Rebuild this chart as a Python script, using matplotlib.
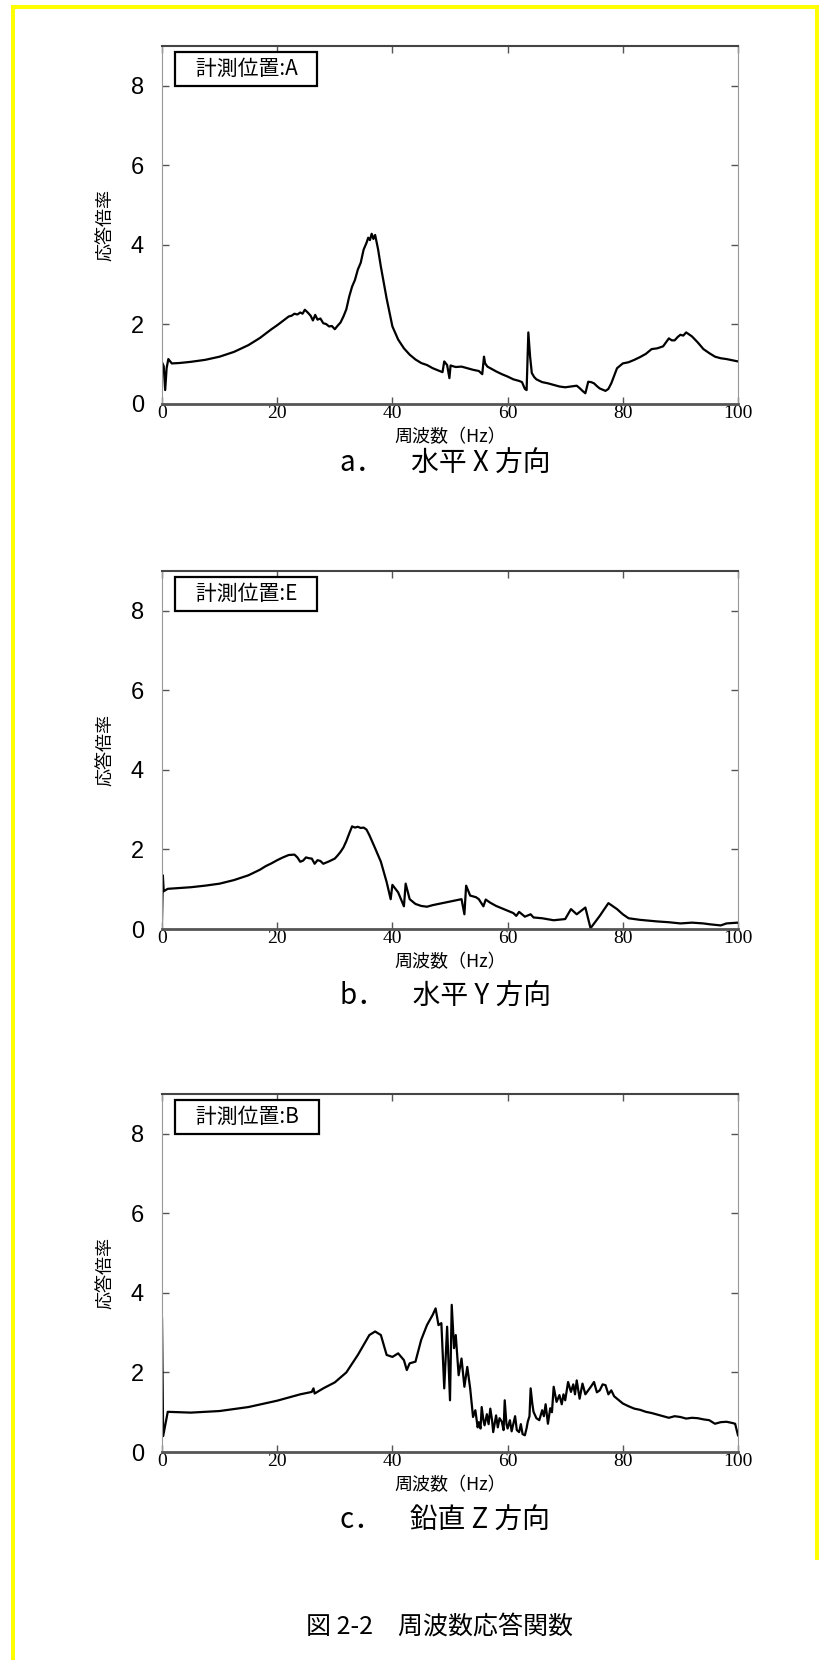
import matplotlib
matplotlib.use('Agg')
import matplotlib.pyplot as plt
from matplotlib.patches import Rectangle

plt.rcParams['font.family'] = ['Noto Sans CJK JP', 'DejaVu Sans']

# ---- data (Hz, response ratio) ----
freq_a = [0, 0.3, 0.55, 0.8, 1.1, 1.7, 3, 5, 7.5, 10,
          12.5, 15, 17, 18, 19, 20, 21, 22, 22.5, 23,
          23.5, 24, 24.4, 24.8, 25.3, 25.8, 26.2, 26.6, 27, 27.5,
          28, 28.5, 29, 29.5, 30, 30.5, 31, 31.5, 32, 32.5,
          33, 33.5, 34, 34.5, 35, 35.5, 35.8, 36.1, 36.4, 36.7,
          37, 37.5, 38, 38.5, 39, 39.5, 40, 41, 42, 43,
          44, 45, 46, 47, 48, 48.7, 49, 49.5, 49.9, 50.1,
          50.5, 51, 52, 53, 54, 55, 55.6, 55.9, 56.1, 56.5,
          57, 58, 59, 60, 61, 62, 62.5, 63, 63.3, 63.6,
          63.9, 64.2, 64.6, 65, 66, 67, 68, 69, 70, 71,
          72, 72.5, 73, 73.5, 74, 74.5, 75, 75.5, 76, 77,
          77.5, 78, 79, 80, 81, 82, 83, 84, 85, 86,
          87, 88, 88.5, 89, 89.5, 90, 90.5, 91, 91.5, 92,
          93, 94, 95, 96, 97, 98, 99, 100]
amp_a = [1.05, 0.95, 0.35, 0.9, 1.13, 1.02, 1.03, 1.06, 1.11, 1.19,
         1.31, 1.48, 1.66, 1.77, 1.88, 1.98, 2.09, 2.2, 2.22, 2.27,
         2.25, 2.3, 2.27, 2.37, 2.3, 2.22, 2.1, 2.24, 2.12, 2.15,
         2.03, 2.01, 1.95, 1.96, 1.88, 1.97, 2.05, 2.2, 2.38, 2.7,
         2.95, 3.12, 3.38, 3.55, 3.88, 4.05, 4.18, 4.12, 4.28, 4.15,
         4.25, 3.9, 3.45, 3.05, 2.65, 2.3, 1.95, 1.62, 1.4, 1.24,
         1.12, 1.03, 0.98, 0.9, 0.84, 0.8, 1.07, 0.98, 0.65, 0.97,
         0.95, 0.93, 0.94, 0.9, 0.86, 0.83, 0.75, 1.19, 1.02, 0.94,
         0.9, 0.82, 0.75, 0.69, 0.62, 0.58, 0.55, 0.38, 0.35, 1.8,
         1.2, 0.78, 0.68, 0.62, 0.55, 0.52, 0.48, 0.44, 0.42, 0.44,
         0.46, 0.4, 0.33, 0.27, 0.56, 0.55, 0.52, 0.45, 0.39, 0.33,
         0.38, 0.52, 0.9, 1.02, 1.05, 1.11, 1.18, 1.26, 1.38, 1.4,
         1.45, 1.65, 1.6, 1.6, 1.68, 1.74, 1.72, 1.8, 1.75, 1.7,
         1.55, 1.38, 1.28, 1.19, 1.15, 1.13, 1.1, 1.07]

freq_e = [0, 0.15, 0.3, 1, 3, 5, 7.5, 10, 12.5, 15,
          17, 18, 19, 20, 21, 22, 23, 23.5, 24, 24.5,
          25, 25.5, 26, 26.5, 27, 27.5, 28, 29, 30, 30.5,
          31, 31.5, 32, 32.5, 33, 33.5, 34, 34.5, 35, 35.5,
          36, 37, 38, 39, 39.7, 40, 41, 42, 42.3, 43,
          44, 45, 46, 47, 48, 49, 50, 51, 52, 52.5,
          52.8, 53.5, 54.5, 55, 55.8, 56.2, 57, 58, 59, 60,
          61, 61.5, 62, 63, 64, 64.5, 66, 68, 70, 71,
          72, 73.5, 74.4, 76, 77.5, 79, 80, 81, 83, 86,
          88, 90, 92, 94, 95, 97, 98, 100]
amp_e = [0.2, 1.35, 0.95, 1.01, 1.03, 1.05, 1.09, 1.14, 1.23, 1.35,
         1.49, 1.58, 1.65, 1.73, 1.8, 1.86, 1.87, 1.8, 1.69, 1.72,
         1.8, 1.78, 1.77, 1.64, 1.73, 1.71, 1.64, 1.7, 1.77, 1.85,
         1.94, 2.05, 2.21, 2.4, 2.58, 2.55, 2.57, 2.54, 2.55, 2.5,
         2.36, 2.03, 1.69, 1.18, 0.75, 1.11, 0.92, 0.57, 1.14, 0.75,
         0.63, 0.58, 0.56, 0.6, 0.63, 0.66, 0.69, 0.72, 0.75, 0.37,
         1.09, 0.84, 0.8, 0.75, 0.57, 0.74, 0.66, 0.58, 0.52, 0.46,
         0.4, 0.33, 0.43, 0.31, 0.37, 0.29, 0.27, 0.22, 0.25, 0.5,
         0.37, 0.54, 0.02, 0.33, 0.65, 0.5, 0.37, 0.27, 0.23, 0.19,
         0.17, 0.14, 0.16, 0.14, 0.12, 0.09, 0.14, 0.16]

freq_b = [0, 0.2, 1, 5, 10, 15, 20, 24, 26, 26.3,
          26.5, 28, 30, 32, 34, 36, 37, 38, 39, 40,
          41, 42, 42.5, 43, 44, 45, 46, 47, 47.5, 48,
          48.5, 49, 49.5, 50, 50.3, 50.7, 51, 51.5, 52, 52.5,
          53, 53.5, 54, 54.4, 54.8, 55, 55.3, 55.5, 55.8, 56,
          56.4, 56.7, 57, 57.3, 57.5, 57.8, 58, 58.3, 58.6, 59,
          59.3, 59.5, 59.8, 60, 60.4, 60.7, 61, 61.3, 61.6, 62,
          62.3, 62.6, 63, 63.3, 63.5, 63.8, 64, 64.3, 64.5, 65,
          65.5, 66, 66.3, 66.6, 67, 67.4, 67.7, 68, 68.5, 69,
          69.4, 69.7, 70, 70.5, 71, 71.4, 71.7, 72, 72.5, 73,
          73.5, 74, 74.5, 75, 75.5, 76, 76.5, 77, 77.5, 78,
          78.5, 79, 79.5, 80, 81, 82, 83, 84, 85, 86,
          87, 88, 89, 90, 91, 92, 93, 94, 95, 96,
          97, 98, 99, 99.5, 100]
amp_b = [3.35, 0.4, 1.01, 0.99, 1.03, 1.13, 1.29, 1.45, 1.51, 1.6,
         1.47, 1.6, 1.75, 2.0, 2.44, 2.94, 3.03, 2.94, 2.44, 2.39,
         2.48, 2.31, 2.06, 2.23, 2.27, 2.82, 3.19, 3.45, 3.61, 3.19,
         3.24, 1.6, 3.15, 1.3, 3.7, 2.61, 2.94, 1.93, 2.35, 1.64,
         2.14, 1.6, 0.88, 1.05, 0.62, 0.75, 0.59, 1.13, 0.8, 0.67,
         0.95, 0.7, 1.09, 0.8, 0.5, 0.75, 0.92, 0.62, 0.85, 0.76,
         0.55, 1.3, 0.7, 0.59, 0.8, 0.52, 0.71, 0.9, 0.55, 0.5,
         0.7, 0.45, 0.42, 0.6, 0.76, 0.9, 1.6, 1.2, 1.01, 0.85,
         0.8, 1.05, 0.9, 1.2, 0.71, 1.1, 1.0, 1.64, 1.26, 1.43,
         1.2, 1.45, 1.3, 1.76, 1.51, 1.7, 1.45, 1.8, 1.34, 1.72,
         1.45, 1.55, 1.65, 1.76, 1.5, 1.55, 1.7, 1.68, 1.45, 1.55,
         1.4, 1.34, 1.28, 1.22, 1.15, 1.09, 1.06, 1.01, 0.98, 0.94,
         0.9, 0.86, 0.9, 0.88, 0.84, 0.86, 0.85, 0.82, 0.8, 0.71,
         0.75, 0.76, 0.73, 0.71, 0.42]

point_labels = ['計測位置:A', '計測位置:E', '計測位置:B']
captions = ['a．\u3000水平 X 方向', 'b．\u3000水平 Y 方向', 'c．\u3000鉛直 Z 方向']
fig_title = '図 2-2\u3000周波数応答関数'
x_ticks = [0, 20, 40, 60, 80, 100]
y_ticks = [0, 2, 4, 6, 8]

W, H = 823, 1660
fig = plt.figure(figsize=(W / 100, H / 100), dpi=100)
fig.patch.set_facecolor('white')

# yellow page frame (top, left, right)
yellow = '#FFFF00'
fig.add_artist(Rectangle((11 / W, 0), 4 / W, 1 - 5 / H, transform=fig.transFigure, color=yellow, lw=0))
fig.add_artist(Rectangle((11 / W, 1 - 9 / H), (819 - 11) / W, 4 / H, transform=fig.transFigure, color=yellow, lw=0))
fig.add_artist(Rectangle((815 / W, 100 / H), 4 / W, 1 - 105 / H, transform=fig.transFigure, color=yellow, lw=0))

series = [(freq_a, amp_a), (freq_e, amp_e), (freq_b, amp_b)]
tops = [46, 571, 1094]
caption_y = [464, 997, 1521]
left, right, height = 162, 738, 358

for i, (f, a) in enumerate(series):
    top = tops[i]
    bottom = top + height
    ax = fig.add_axes([left / W, 1 - bottom / H, (right - left) / W, height / H])
    ax.plot(f, a, color='black', lw=1.6)
    ax.set_xlim(0, 100)
    ax.set_ylim(0, 9)
    ax.set_xticks(x_ticks)
    ax.set_yticks(y_ticks)
    ax.tick_params(direction='in', top=True, right=True, length=5, width=1, color='#555555')
    ax.tick_params(axis='x', pad=1)
    ax.tick_params(axis='y', pad=13)
    for lab in ax.get_xticklabels():
        lab.set_fontfamily('Liberation Serif')
        lab.set_fontsize(14)
    for lab in ax.get_yticklabels():
        lab.set_fontfamily('Liberation Sans')
        lab.set_fontsize(17)
    ax.spines['left'].set_color('#999999')
    ax.spines['right'].set_color('#999999')
    ax.spines['top'].set_color('#444444')
    ax.spines['top'].set_linewidth(1.5)
    ax.spines['bottom'].set_color('#555555')
    ax.spines['bottom'].set_linewidth(2)

    ax.set_xlabel('周波数（Hz）', fontsize=13)
    ax.xaxis.set_label_coords(0.5, -0.066)
    ax.set_ylabel('応答倍率', fontsize=13)
    ax.yaxis.set_label_coords(-0.082, 0.5)

    ax.text(0.034, 0.966, '   ' + point_labels[i] + '   ', transform=ax.transAxes,
            ha='left', va='top', fontsize=15,
            bbox=dict(boxstyle='square,pad=0.3', fc='white', ec='black', lw=1.6))

    fig.text(445 / W, 1 - caption_y[i] / H, captions[i], ha='center', va='center', fontsize=20)

fig.text(440 / W, 1 - 1628 / H, fig_title, ha='center', va='center', fontsize=18)

fig.savefig('out.png', dpi=100)
